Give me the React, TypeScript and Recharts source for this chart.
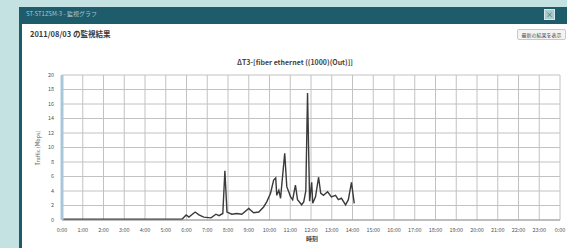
import React from 'react';
import { LineChart, Line, XAxis, YAxis, CartesianGrid } from 'recharts';

const hourLabels = [
  '0:00', '1:00', '2:00', '3:00', '4:00', '5:00', '6:00', '7:00', '8:00', '9:00',
  '10:00', '11:00', '12:00', '13:00', '14:00', '15:00', '16:00', '17:00', '18:00',
  '19:00', '20:00', '21:00', '22:00', '23:00', '0:00',
];
const yTicks = [0, 2, 4, 6, 8, 10, 12, 14, 16, 18, 20];

// minutes after midnight
const minutes = [
  0, 60, 120, 180, 240, 300, 347, 359, 367, 385, 396, 410, 431, 445, 454, 465, 471, 477,
  491, 505, 520, 540, 554, 569, 583, 592, 603, 612, 618, 621, 627, 632, 635, 644, 650,
  661, 667, 675, 681, 693, 699, 705, 710, 716, 722, 725, 733, 742, 748, 756, 768, 779,
  791, 799, 808, 820, 828, 837, 845,
];
const traffic = [
  0.1, 0.1, 0.1, 0.1, 0.1, 0.1, 0.1, 0.7, 0.4, 1.1, 0.7, 0.4, 0.3, 0.8, 0.6, 0.9, 6.8, 1.1,
  0.8, 0.9, 0.8, 1.6, 1.0, 1.1, 1.8, 2.5, 3.7, 5.5, 5.8, 3.4, 4.1, 3.0, 4.6, 9.2, 4.6,
  3.2, 2.8, 4.8, 2.8, 2.1, 2.5, 4.0, 17.5, 2.6, 5.2, 2.3, 3.2, 5.9, 3.7, 3.4, 3.9, 3.2,
  3.4, 2.8, 3.0, 2.1, 2.8, 5.2, 2.3,
];

const windowTitle = 'ST-ST1ZSM-3 - 監視グラフ';
const pageTitle = '2011/08/03 の監視結果';
const buttonText = '最新の結果を表示';
const chartTitle = 'ΔT3-[fiber ethernet ((1000)(Out)]]';
const xTitle = '時刻';
const yTitle = 'Traffic (Mbps)';

export default function App() {
  const data = minutes.map((m, i) => ({ m, v: traffic[i] }));
  const hourTicks = hourLabels.map((_, i) => i * 60);
  const font = '"Noto Sans CJK JP", "DejaVu Sans", sans-serif';
  return (
    <div
      style={{
        position: 'fixed', left: 0, top: 0, width: 567, height: 248,
        background: '#c3e2e1', overflow: 'hidden', fontFamily: font,
      }}
    >
      <div style={{ position: 'absolute', left: 19, top: 7, width: 560, height: 260, background: '#1e5c6b' }} />
      <div style={{ position: 'absolute', left: 22, top: 24, width: 560, height: 240, background: '#ffffff' }} />
      <div style={{ position: 'absolute', left: 26, top: 9, fontSize: 6, color: '#a9c6cc', whiteSpace: 'nowrap' }}>
        {windowTitle}
      </div>
      <div
        style={{
          position: 'absolute', left: 544, top: 9, width: 9, height: 9, background: '#a9c9cf',
          border: '1px solid #d7e6e8', fontSize: 7, lineHeight: '9px', textAlign: 'center', color: '#1e5c6b',
        }}
      >
        ×
      </div>
      <div style={{ position: 'absolute', left: 30, top: 28, fontSize: 7.5, fontWeight: 'bold', color: '#3a3a3a', whiteSpace: 'nowrap' }}>
        {pageTitle}
      </div>
      <div
        style={{
          position: 'absolute', left: 517, top: 29, width: 49, height: 11, background: '#f4f4f4',
          border: '1px solid #c8c8c8', borderRadius: 2, fontSize: 5, lineHeight: '10px', color: '#444',
          textAlign: 'center', whiteSpace: 'nowrap', boxSizing: 'border-box',
        }}
      >
        {buttonText}
      </div>
      <div
        style={{
          position: 'absolute', left: 195, width: 200, top: 57, textAlign: 'center', fontSize: 7,
          fontWeight: 'bold', color: '#444', whiteSpace: 'nowrap',
        }}
      >
        {chartTitle}
      </div>
      <div style={{ position: 'absolute', left: 0, top: 0 }}>
        <LineChart width={567} height={248} data={data} margin={{ top: 75, right: 7, bottom: 12, left: 22 }}>
          <CartesianGrid stroke="#c2c2c2" strokeWidth={1} />
          <XAxis
            dataKey="m"
            type="number"
            domain={[0, 1440]}
            ticks={hourTicks}
            interval={0}
            tickFormatter={(v: number) => hourLabels[Math.round(v / 60)]}
            height={16}
            tick={{ fontSize: 5.5, fill: '#555', fontFamily: font }}
            tickLine={false}
            axisLine={{ stroke: '#9a9a9a' }}
            tickMargin={2}
          />
          <YAxis
            domain={[0, 20]}
            ticks={yTicks}
            interval={0}
            width={40}
            tick={{ fontSize: 5.5, fill: '#555', fontFamily: font }}
            tickLine={false}
            axisLine={{ stroke: '#aac6da', strokeWidth: 3 }}
          />
          <Line
            type="linear"
            dataKey="v"
            stroke="#3a3a3a"
            strokeWidth={1.4}
            dot={false}
            isAnimationActive={false}
          />
        </LineChart>
      </div>
      <div style={{ position: 'absolute', left: 306, top: 234, fontSize: 6, fontWeight: 'bold', color: '#444' }}>
        {xTitle}
      </div>
      <div
        style={{
          position: 'absolute', left: 38, top: 148, fontSize: 5.5, color: '#666', whiteSpace: 'nowrap',
          transform: 'translate(-50%, -50%) rotate(-90deg)',
        }}
      >
        {yTitle}
      </div>
    </div>
  );
}
